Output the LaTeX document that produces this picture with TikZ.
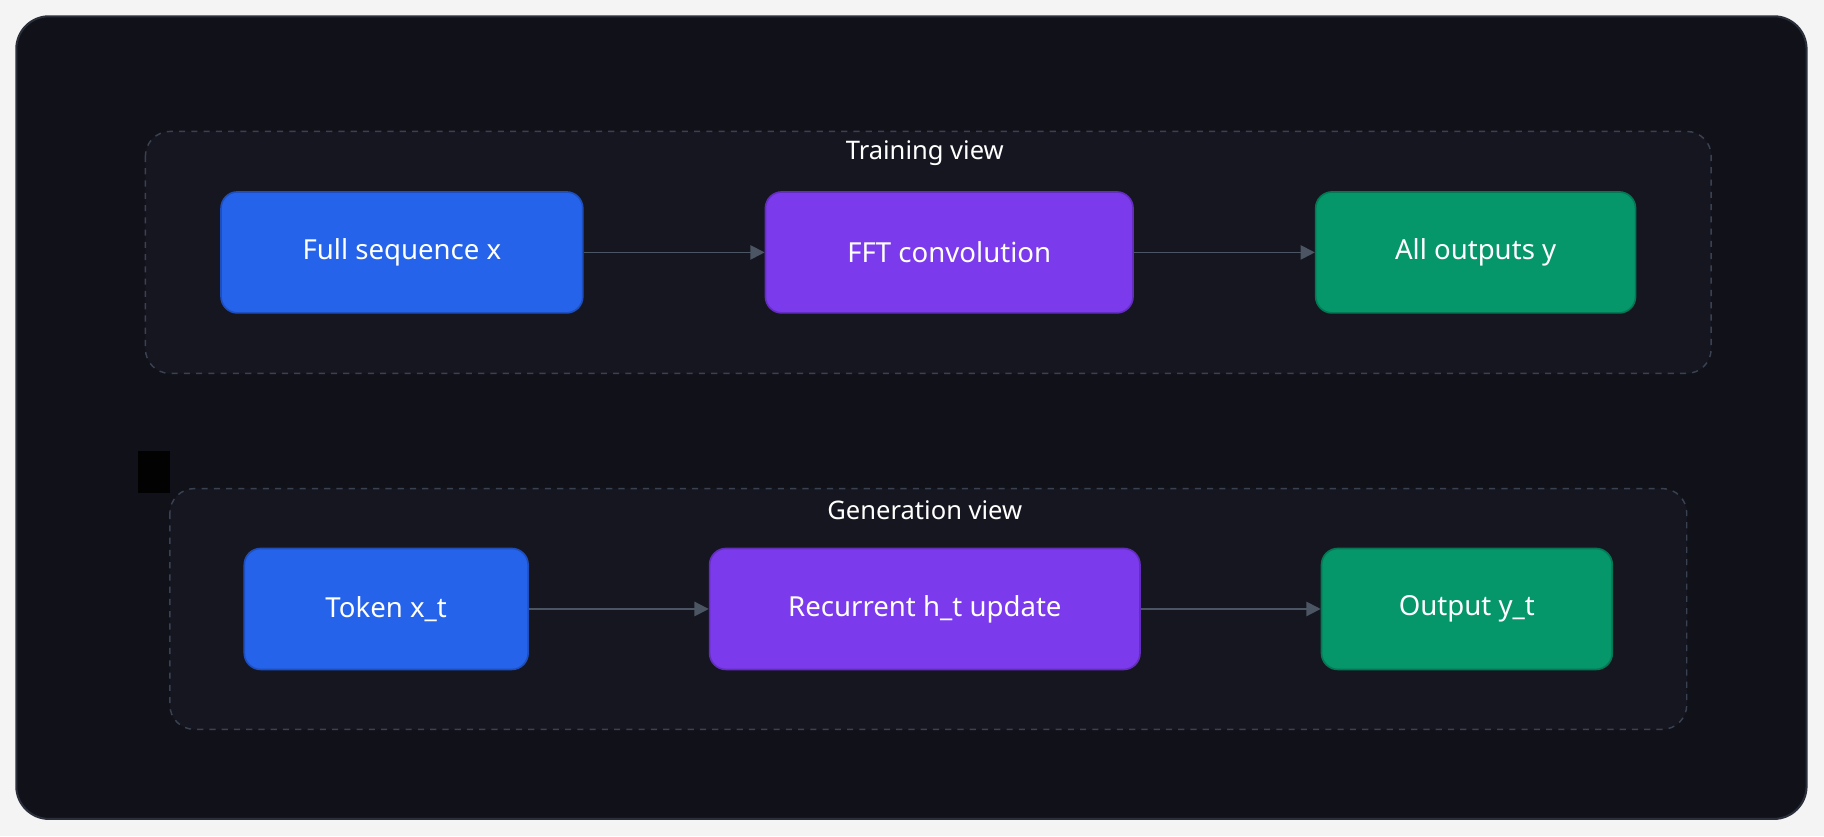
\documentclass[tikz,border=0pt]{standalone}
\usepackage{fontspec}
\setmainfont{Noto Sans}
\usetikzlibrary{arrows.meta}
\definecolor{pagebg}{HTML}{F4F4F5}
\definecolor{canvas}{HTML}{111219}
\definecolor{canvasline}{HTML}{2A2F3A}
\definecolor{groupbg}{HTML}{161620}
\definecolor{groupline}{HTML}{3A4252}
\definecolor{blueA}{HTML}{2563EB}
\definecolor{purpleA}{HTML}{7C3AED}
\definecolor{greenA}{HTML}{059669}
\definecolor{wire}{HTML}{4B5563}
\tikzset{
  box/.style={draw, rounded corners=8pt, line width=0.8pt, text=white,
    font=\fontsize{13.5}{16}\selectfont, minimum height=104*0.02cm, inner sep=0pt},
  group/.style={draw=groupline, fill=groupbg, dashed, rounded corners=12pt, line width=0.7pt},
  title/.style={text=white, font=\fontsize{12.5}{15}\selectfont\bfseries},
  flow/.style={draw=wire, line width=0.9pt, -{Triangle[length=7pt,width=7pt]}}
}
\begin{document}
\begin{tikzpicture}[x=0.02cm,y=-0.02cm]
    \fill[pagebg] (0,0) rectangle (1568,719);
    \useasboundingbox (0,0) rectangle (1568,719);
    \draw[canvasline, fill=canvas, line width=1pt, rounded corners=16pt] (14,14) rectangle (1553,704);
    % training view
    \draw[group] (125,113) rectangle (1471,321);
    \node[title] (ttrain) at (795,132) {Training view};
    \node[box, fill=blueA, draw=blueA!80!black, minimum width=311*0.02cm] (fullseq) at (345.5,217) {Full sequence x};
    \node[box, fill=purpleA, draw=purpleA!80!black, minimum width=316*0.02cm] (fftconv) at (816,217) {FFT convolution};
    \node[box, fill=greenA, draw=greenA!80!black, minimum width=275*0.02cm] (allout) at (1268.5,217) {All outputs y};
    \draw[flow] (fullseq) -- (fftconv);
    \draw[flow] (fftconv) -- (allout);
    % generation view
    \fill[black!90!canvas] (119,388) rectangle (146,424);
    \draw[group] (146,420) rectangle (1450,627);
    \node[title] (tgen) at (795,439) {Generation view};
    \node[box, fill=blueA, draw=blueA!80!black, minimum width=244*0.02cm] (token) at (332,523.5) {Token x\_t};
    \node[box, fill=purpleA, draw=purpleA!80!black, minimum width=370*0.02cm] (recur) at (795,523.5) {Recurrent h\_t update};
    \node[box, fill=greenA, draw=greenA!80!black, minimum width=250*0.02cm] (outyt) at (1261,523.5) {Output y\_t};
    \draw[flow] (token) -- (recur);
    \draw[flow] (recur) -- (outyt);
\end{tikzpicture}
\end{document}
